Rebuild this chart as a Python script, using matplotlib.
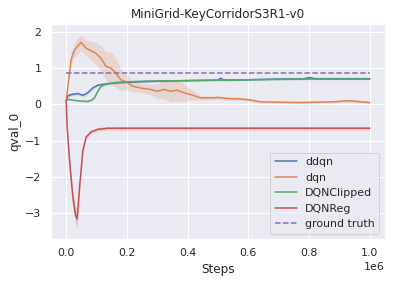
import matplotlib
matplotlib.use('Agg')
import matplotlib.pyplot as plt
import seaborn as sns
import numpy as np

# steps (in units of 1e6)
x_dqn = [0.0, 0.016, 0.027, 0.049, 0.066, 0.082, 0.098, 0.115, 0.131, 0.148, 0.164, 0.18, 0.2,
         0.219, 0.246, 0.279, 0.3, 0.322, 0.344, 0.366, 0.388, 0.41, 0.443, 0.486, 0.5, 0.53,
         0.574, 0.607, 0.64, 0.7, 0.77, 0.825, 0.88, 0.93, 1.0]
y_dqn = [0.1, 1.23, 1.5, 1.71, 1.55, 1.48, 1.41, 1.27, 1.05, 1.0, 0.86, 0.68, 0.61,
         0.5, 0.45, 0.41, 0.36, 0.41, 0.36, 0.39, 0.32, 0.27, 0.18, 0.18, 0.19, 0.16,
         0.15, 0.12, 0.07, 0.06, 0.05, 0.06, 0.07, 0.1, 0.05]
s_dqn = [0.02, 0.15, 0.2, 0.22, 0.22, 0.25, 0.3, 0.35, 0.4, 0.45, 0.4, 0.3, 0.2,
         0.15, 0.12, 0.15, 0.2, 0.25, 0.3, 0.3, 0.25, 0.15, 0.06, 0.05, 0.05, 0.05,
         0.04, 0.04, 0.03, 0.03, 0.03, 0.03, 0.03, 0.04, 0.03]

x_ddqn = [0.0, 0.005, 0.016, 0.038, 0.055, 0.071, 0.087, 0.104, 0.126, 0.159, 0.202, 0.301,
          0.41, 0.5, 0.508, 0.52, 0.6, 0.7, 0.78, 0.8, 0.82, 0.9, 1.0]
y_ddqn = [0.1, 0.23, 0.27, 0.3, 0.25, 0.32, 0.45, 0.53, 0.56, 0.59, 0.61, 0.64,
          0.66, 0.67, 0.72, 0.67, 0.68, 0.7, 0.7, 0.74, 0.71, 0.71, 0.71]
s_ddqn = [0.02, 0.04, 0.04, 0.04, 0.04, 0.04, 0.04, 0.03, 0.03, 0.03, 0.02, 0.02,
          0.02, 0.02, 0.05, 0.02, 0.02, 0.02, 0.02, 0.03, 0.02, 0.02, 0.02]

x_clip = [0.0, 0.005, 0.027, 0.049, 0.071, 0.082, 0.093, 0.104, 0.115, 0.131, 0.169, 0.246,
          0.35, 0.45, 0.6, 0.8, 1.0]
y_clip = [0.1, 0.14, 0.11, 0.09, 0.08, 0.11, 0.18, 0.36, 0.5, 0.56, 0.61, 0.64,
          0.65, 0.66, 0.68, 0.7, 0.7]
s_clip = [0.02, 0.02, 0.02, 0.02, 0.02, 0.03, 0.04, 0.04, 0.03, 0.03, 0.02, 0.02,
          0.02, 0.02, 0.02, 0.02, 0.02]

x_reg = [0.0, 0.003, 0.011, 0.022, 0.03, 0.036, 0.044, 0.055, 0.066, 0.082, 0.104, 0.137,
         0.2, 0.4, 0.6, 0.8, 1.0]
y_reg = [0.1, -0.6, -1.55, -2.56, -3.03, -3.17, -2.29, -1.27, -0.9, -0.76, -0.69, -0.66,
         -0.66, -0.66, -0.66, -0.66, -0.66]
s_reg = [0.02, 0.1, 0.15, 0.2, 0.25, 0.28, 0.2, 0.1, 0.06, 0.05, 0.05, 0.05,
         0.05, 0.05, 0.05, 0.05, 0.05]

ground_truth = 0.88

sns.set_theme()
fig = plt.figure(figsize=(397 / 72, 284 / 72), dpi=72)
ax = fig.add_axes([51 / 397, 1 - 239 / 284, 334 / 397, 215 / 284])

series = [
    ('ddqn', x_ddqn, y_ddqn, s_ddqn),
    ('dqn', x_dqn, y_dqn, s_dqn),
    ('DQNClipped', x_clip, y_clip, s_clip),
    ('DQNReg', x_reg, y_reg, s_reg),
]
for i, (name, xs, ys, ss) in enumerate(series):
    xs = np.array(xs) * 1e6
    ys = np.array(ys)
    ss = np.array(ss)
    ax.plot(xs, ys, color='C%d' % i, label=name, lw=1.5)
    ax.fill_between(xs, ys - ss, ys + ss, color='C%d' % i, alpha=0.2, lw=0)

ax.plot([0, 1e6], [ground_truth, ground_truth], '--', color='C4', label='ground truth')

ax.set_xlim(-0.05e6, 1.05e6)
ax.set_ylim(-3.72, 2.22)
ax.set_yticks([-3, -2, -1, 0, 1, 2])
ax.set_title('MiniGrid-KeyCorridorS3R1-v0')
ax.set_xlabel('Steps')
ax.set_ylabel('qval_0')
ax.legend(loc='lower right')

fig.savefig('out.png', dpi=72)
